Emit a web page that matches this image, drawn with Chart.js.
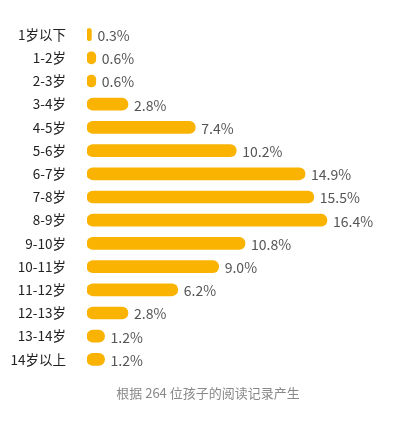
<!DOCTYPE html>
<html><head><meta charset="utf-8">
<script src="https://cdn.jsdelivr.net/npm/chart.js@4"></script>
<style>html,body{margin:0;padding:0;background:#fff}#w{width:416px;height:421px}</style>
</head><body><div id="w"><canvas id="c"></canvas></div>
<script>
const categories=["1岁以下","1-2岁","2-3岁","3-4岁","4-5岁","5-6岁","6-7岁","7-8岁","8-9岁","9-10岁","10-11岁","11-12岁","12-13岁","13-14岁","14岁以上"];
const values=[0.3,0.6,0.6,2.8,7.4,10.2,14.9,15.5,16.4,10.8,9.0,6.2,2.8,1.2,1.2];
const footer="根据 264 位孩子的阅读记录产生";
const FONT='"Noto Sans CJK SC","Noto Sans",sans-serif';
const labels={id:'lab',afterDatasetsDraw(ch){const c=ch.ctx;const m=ch.getDatasetMeta(0);c.save();c.font='14px '+FONT;c.fillStyle='#555';c.textBaseline='middle';
m.data.forEach((b,i)=>{c.fillText(values[i].toFixed(1)+'%',b.x+6,b.y+1);});
c.font='13px '+FONT;c.fillStyle='#888';c.textAlign='center';c.fillText(footer,208,393);c.restore();}};
new Chart(document.getElementById('c'),{type:'bar',data:{labels:categories,datasets:[{data:values,backgroundColor:'#F9B300',barThickness:12,borderRadius:6,borderSkipped:false}]},
options:{indexAxis:'y',responsive:true,maintainAspectRatio:false,animation:false,
layout:{padding:{left:0,right:10,top:23,bottom:50}},
plugins:{legend:{display:false},tooltip:{enabled:false}},
scales:{x:{display:false,min:0,max:21.8},y:{grid:{display:false},border:{display:false},afterFit(s){s.width=87;},ticks:{padding:13,color:'#222',font:{size:13.5,family:FONT}}}}},
plugins:[labels]});
</script></body></html>
